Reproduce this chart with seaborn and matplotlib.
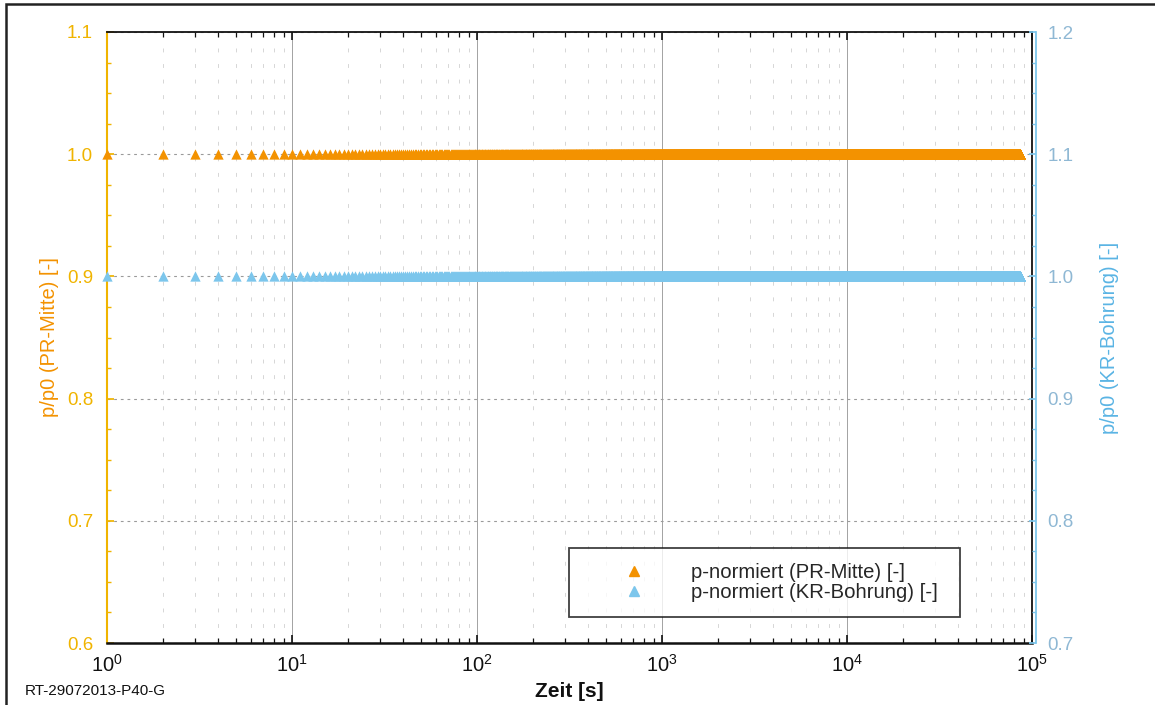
import numpy as np
import pandas as pd
import matplotlib
matplotlib.use("Agg")
import matplotlib.pyplot as plt
import seaborn as sns
from matplotlib.ticker import LogLocator, MultipleLocator, NullFormatter
from matplotlib.patches import Rectangle

# ---- data (1 s sampling over one day, readings constant) ----
time_s = np.arange(1, 86401)
pr_mitte_level = 1.0     # p/p0 PR-Mitte (left axis)
kr_bohrung_level = 1.0   # p/p0 KR-Bohrung (right axis)
pr_mitte = np.full(time_s.shape, pr_mitte_level)
kr_bohrung = np.full(time_s.shape, kr_bohrung_level)

left_ticks = [0.6, 0.7, 0.8, 0.9, 1.0, 1.1]
right_ticks = [0.7, 0.8, 0.9, 1.0, 1.1, 1.2]
x_label = "Zeit [s]"
left_label = "p/p0 (PR-Mitte) [-]"
right_label = "p/p0 (KR-Bohrung) [-]"
series_labels = ["p-normiert (PR-Mitte) [-]", "p-normiert (KR-Bohrung) [-]"]
footer = "RT-29072013-P40-G"

df_pr = pd.DataFrame({"t": time_s, "p": pr_mitte})
df_kr = pd.DataFrame({"t": time_s, "p": kr_bohrung})

sns.set_theme(style="white")
plt.rcParams["font.family"] = ["Liberation Sans", "DejaVu Sans"]
plt.rcParams["mathtext.fontset"] = "custom"
plt.rcParams["mathtext.rm"] = "Liberation Sans"

ORANGE = "#f39200"
GOLD = "#f0b400"
LBLUE = "#7cc6ec"
BLUE_TXT = "#8fb8d4"

W, H = 1155, 705
fig = plt.figure(figsize=(W / 100, H / 100), dpi=100)
L, R, T, B = 107, 1032, 32, 643
ax = fig.add_axes([L / W, 1 - B / H, (R - L) / W, (B - T) / H])
ax2 = ax.twinx()

# outer frame (only top and left edges fall inside the image)
fig.patches.append(Rectangle((6 / W, -10 / H), (W + 20 - 6) / W, (H - 4 + 10) / H,
                             transform=fig.transFigure, fill=False, edgecolor="#222222",
                             linewidth=1.8))

ax.set_xscale("log")
ax.set_xlim(1, 1e5)

# grids
ax.xaxis.set_major_locator(LogLocator(base=10, numticks=10))
ax.xaxis.set_minor_locator(LogLocator(base=10, subs=np.arange(2, 10), numticks=20))
ax.xaxis.set_minor_formatter(NullFormatter())
ax.grid(which="major", axis="x", color="#a2a2a2", linestyle="-", linewidth=0.7)
ax.grid(which="minor", axis="x", color="#d6d6d6", linestyle=(0, (4, 12)), linewidth=0.7)
ax.grid(which="major", axis="y", color="#9a9a9a", linestyle=(0, (2.5, 3.5)), linewidth=0.8)
ax.set_axisbelow(True)

sns.scatterplot(data=df_pr, x="t", y="p", ax=ax, marker="^", s=55, color=ORANGE,
                linewidth=0, legend=False, zorder=3, clip_on=False)
sns.scatterplot(data=df_kr, x="t", y="p", ax=ax2, marker="^", s=55, color=LBLUE,
                linewidth=0, legend=False, zorder=3, clip_on=False)

ax.set_yticks(left_ticks)
ax.set_yticklabels([f"{v:.1f}" for v in left_ticks])
ax2.set_yticks(right_ticks)
ax2.set_yticklabels([f"{v:.1f}" for v in right_ticks])
ax.yaxis.set_minor_locator(MultipleLocator(0.025))
ax2.yaxis.set_minor_locator(MultipleLocator(0.025))
ax.set_ylim(0.6, 1.1)
ax2.set_ylim(0.7, 1.2)
ax.set_xlim(1, 1e5)

# spines
for a in (ax, ax2):
    for s in a.spines.values():
        s.set_visible(True)
ax.spines["left"].set_color(GOLD)
ax.spines["left"].set_linewidth(1.5)
ax.spines["bottom"].set_color("#111111")
ax.spines["bottom"].set_linewidth(1.8)
ax.spines["top"].set_color("#111111")
ax.spines["top"].set_linewidth(1.3)
ax.spines["right"].set_color("#111111")
ax.spines["right"].set_linewidth(1.3)
ax2.spines["right"].set_color(LBLUE)
ax2.spines["right"].set_linewidth(1.3)
ax2.spines["right"].set_position(("outward", 3))
ax2.spines["left"].set_visible(False)
ax2.spines["top"].set_visible(False)
ax2.spines["bottom"].set_visible(False)

ax.tick_params(axis="x", which="both", direction="in", top=True, bottom=True,
               labelsize=14.5, colors="#111111", pad=8)
ax.tick_params(axis="x", which="major", length=6, width=1.2)
ax.tick_params(axis="x", which="minor", length=3.5, width=0.9)
ax.tick_params(axis="y", which="both", direction="in", left=True, right=False,
               color=GOLD, labelcolor=GOLD, labelsize=13.5, pad=10)
ax.tick_params(axis="y", which="major", length=5)
ax.tick_params(axis="y", which="minor", length=3)
ax2.tick_params(axis="y", which="both", direction="in", right=True, left=False,
                color=LBLUE, labelcolor=BLUE_TXT, labelsize=13.5, pad=8)
ax2.tick_params(axis="y", which="major", length=5)
ax2.tick_params(axis="y", which="minor", length=3)

ax.set_xlabel(x_label, fontsize=15, fontweight="bold", color="#111111", labelpad=4)
ax.set_ylabel(left_label, fontsize=14.5, color=ORANGE, labelpad=6)
ax2.set_ylabel(right_label, fontsize=14.5, color="#5ab4e4", labelpad=19)

fig.text(25 / W, 1 - 691 / H, footer, fontsize=11, color="#111111", va="center", ha="left")

# legend
h1 = plt.Line2D([], [], marker="^", color=ORANGE, linestyle="none", markersize=7)
h2 = plt.Line2D([], [], marker="^", color=LBLUE, linestyle="none", markersize=7)
leg = ax.legend([h1, h2], series_labels, loc="lower left",
                bbox_to_anchor=((569 - L) / (R - L), (B - 617) / (B - T),
                                (960 - 569) / (R - L), (617 - 550) / (B - T)),
                mode="expand", borderaxespad=0, fontsize=14.6, frameon=True,
                fancybox=False, edgecolor="#111111", handletextpad=0.35,
                handlelength=4.9, labelspacing=0.05, borderpad=0.75)
leg.get_frame().set_linewidth(1.3)
leg.set_zorder(10)

fig.savefig("out.png", dpi=100, facecolor="white")
